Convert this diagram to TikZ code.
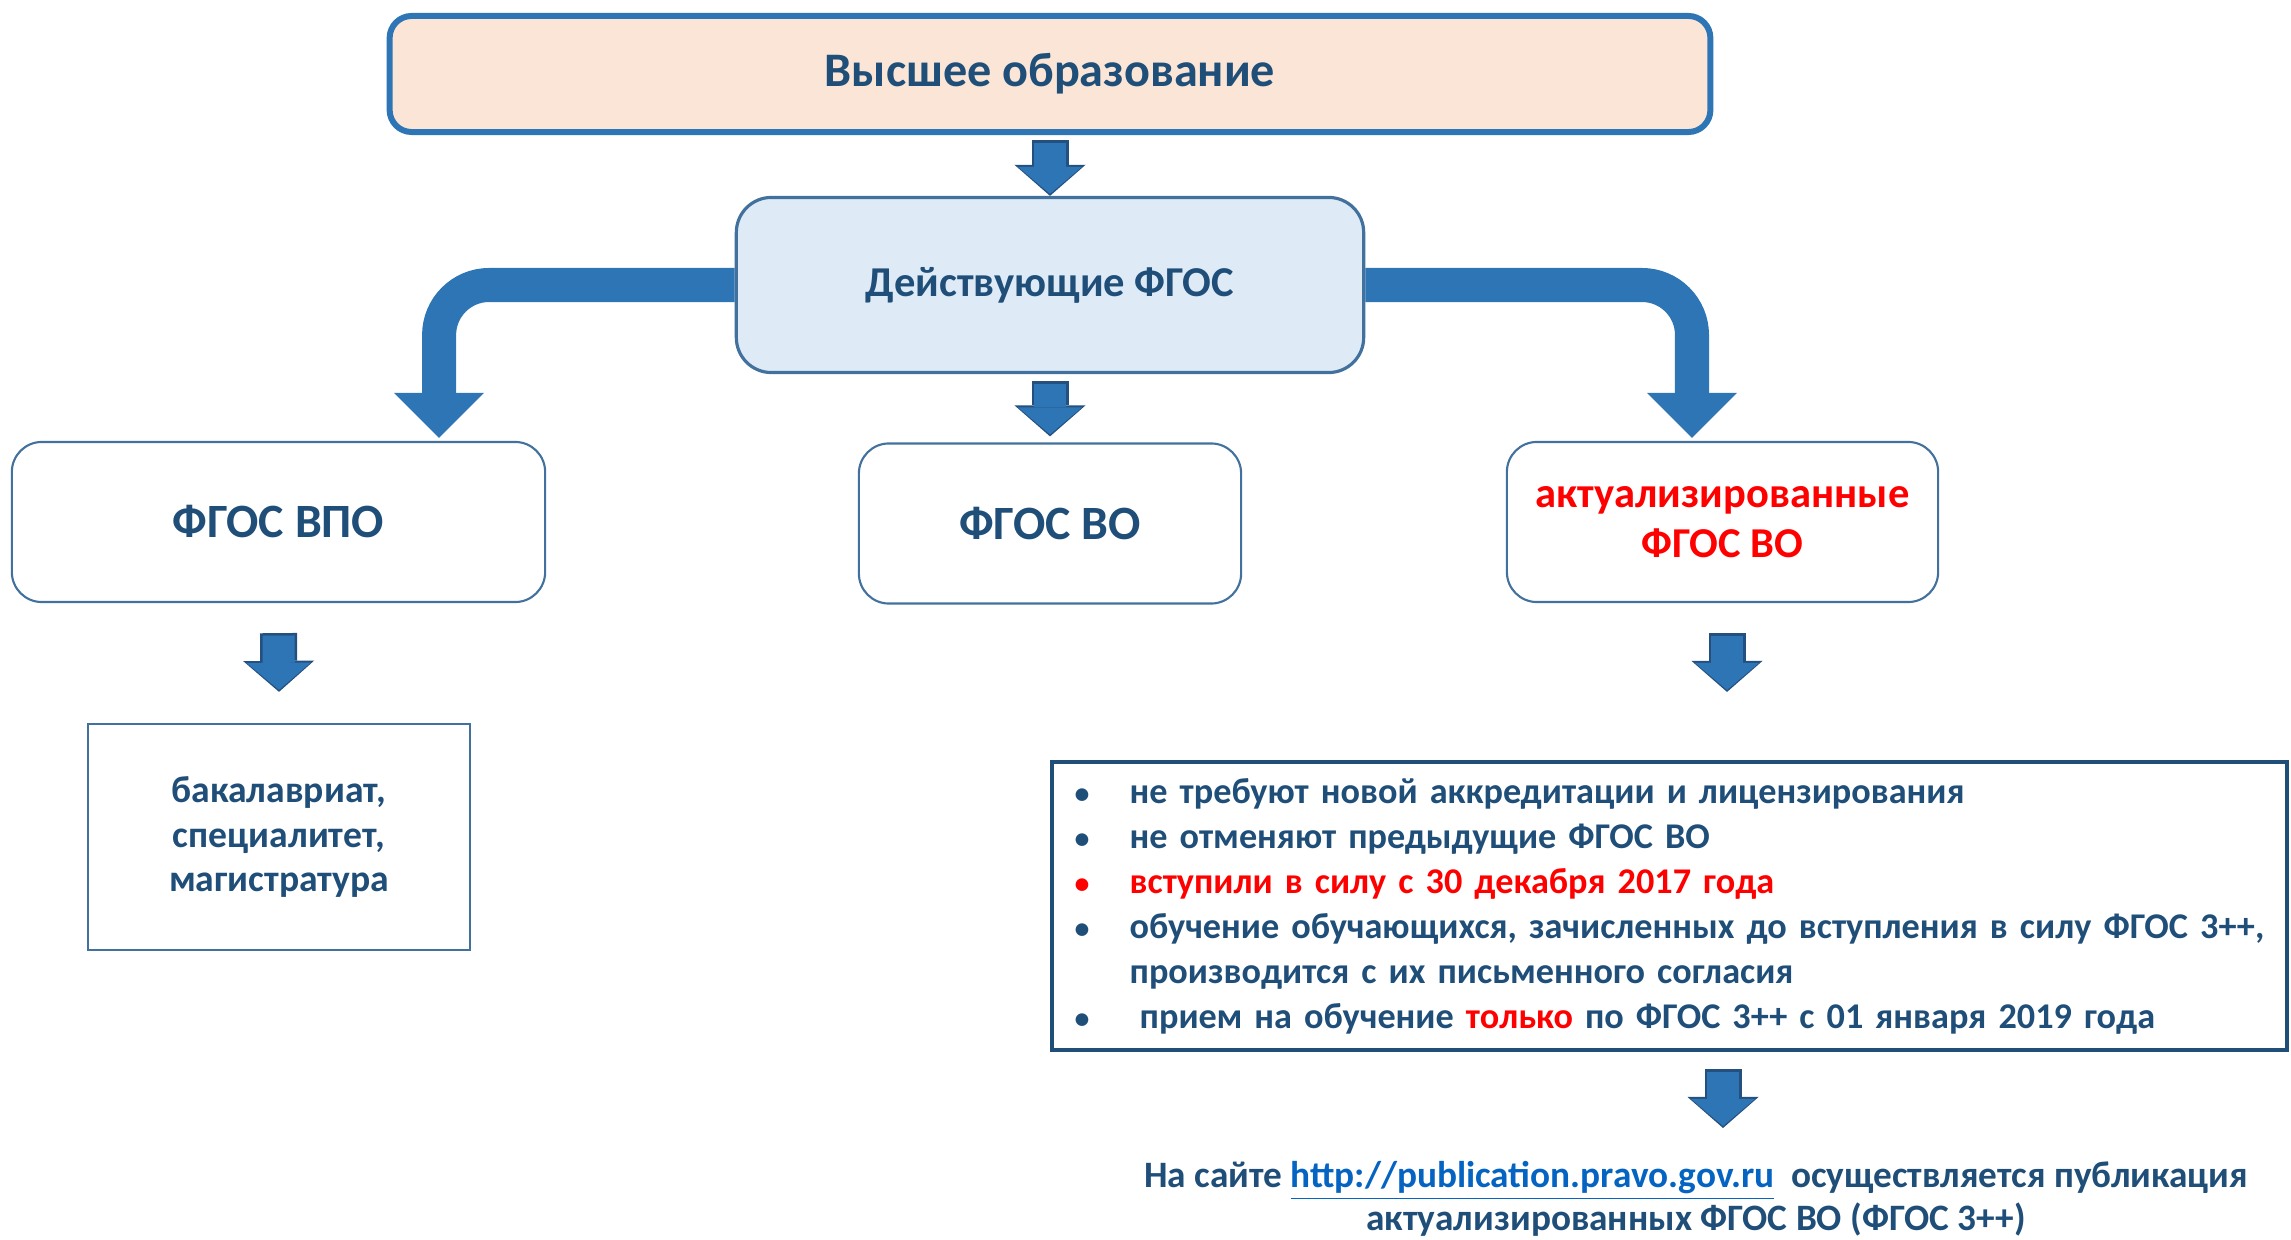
\documentclass[tikz,border=0pt]{standalone}
\usepackage{fontspec}
\setmainfont{Carlito}
\usetikzlibrary{arrows.meta}

\definecolor{txtblue}{HTML}{1F4E79}
\definecolor{arrowblue}{HTML}{2E75B6}
\definecolor{arrowedge}{HTML}{24507F}
\definecolor{edgeblue}{HTML}{41719C}
\definecolor{topfill}{HTML}{FBE5D6}
\definecolor{midfill}{HTML}{DEEBF7}
\definecolor{linkblue}{HTML}{0563C1}

\newcommand\itemdot{\makebox[0.58cm][l]{\hspace{0.03cm}\fontsize{8.5}{8.5}\selectfont\textbullet}}

\tikzset{
  topbox/.style={draw=arrowblue, line width=1.7pt, fill=topfill, rounded corners=0.22cm,
    minimum width=13.2cm, minimum height=1.16cm, text=txtblue,
    font=\fontsize{13.7}{16}\selectfont\bfseries},
  midbox/.style={draw=edgeblue, line width=0.9pt, fill=midfill, rounded corners=0.35cm,
    minimum width=6.27cm, minimum height=1.75cm, text=txtblue,
    font=\fontsize{12.1}{14}\selectfont\bfseries},
  fgosbox/.style={draw=edgeblue, line width=0.6pt, rounded corners=0.3cm,
    minimum height=1.6cm, text=txtblue, align=center,
    font=\fontsize{13.6}{16}\selectfont\bfseries},
  levelbox/.style={draw=edgeblue, line width=0.6pt, minimum width=3.82cm, minimum height=2.26cm,
    text=txtblue, align=center, font=\fontsize{10.7}{12.7}\selectfont\bfseries},
  infobox/.style={draw=txtblue, line width=1.1pt, text width=11.95cm, inner xsep=0.2cm,
    minimum height=2.88cm, text=txtblue, align=left,
    font=\fontsize{10.3}{12.8}\selectfont\bfseries},
  sitetext/.style={text=txtblue, align=center, font=\fontsize{10.6}{12.4}\selectfont\bfseries},
  blockarrow/.style={draw=arrowblue, line width=0.32cm, shorten <=0.25mm, shorten >=0.2mm,
    -{Triangle[width=0.64cm, length=0.27cm, line width=0pt]},
    preaction={draw=arrowedge, line width=0.37cm, shorten <=0pt, shorten >=0pt,
      -{Triangle[width=0.71cm, length=0.31cm, line width=0pt]}}},
  bendarrow/.style={draw=arrowblue, line width=0.34cm, rounded corners=0.5cm,
    -{Triangle[width=0.9cm, length=0.45cm, line width=0pt]}}
}

\begin{document}
\begin{tikzpicture}[x=0.01cm, y=-0.01cm]
    \useasboundingbox (0,0) rectangle (2291,1240);

    % Nodes
    \node (top) [topbox] at (1050,74) {Высшее образование};
    \node (mid) [midbox] at (1050,285) {Действующие ФГОС};
    \node (vpo) [fgosbox, minimum width=5.33cm] at (278.5,522) {ФГОС ВПО};
    \node (vo) [fgosbox, minimum width=3.82cm] at (1050,523.5) {ФГОС ВО};
    \node (akt) [fgosbox, minimum width=4.31cm, text=red,
        font=\fontsize{12.1}{14.2}\selectfont\bfseries] at (1722.5,522) {актуализированные\\ФГОС ВО};
    \node (bak) [levelbox] at (279,837) {бакалавриат,\\специалитет,\\магистратура};
    \node (info) [infobox] at (1669.5,906) {%
        \itemdot не требуют новой аккредитации и лицензирования\\
        \itemdot не отменяют предыдущие ФГОС ВО\\
        \textcolor{red}{\itemdot вступили в силу с 30 декабря 2017 года}\\
        \mbox{\itemdot обучение обучающихся, зачисленных до вступления в силу ФГОС 3++,}\\
        \hspace*{0.58cm}производится с их письменного согласия\\
        \itemdot\hspace{0.1cm}прием на обучение \textcolor{red}{только} по ФГОС 3++ с 01 января 2019 года};
    \node (site) [sitetext] at (1696,1199) {На сайте \textcolor{linkblue}{\underline{http://publication.pravo.gov.ru}}\ \ осуществляется публикация\\
        актуализированных ФГОС ВО (ФГОС 3++)};
    \coordinate (siteTop) at (1723,1128);

    % Arrows
    \draw[blockarrow] ([yshift=-0.5mm]top.south) -- (mid.north);
    \draw[blockarrow] ([yshift=-0.7mm]mid.south) -- ([yshift=0.6mm]vo.north);
    \draw[bendarrow] (mid.west) -| ([xshift=1.605cm, yshift=0.3mm]vpo.north);
    \draw[bendarrow] (mid.east) -| ([xshift=-0.305cm, yshift=0.3mm]akt.north);
    \draw[blockarrow] ([yshift=-3mm]vpo.south) -- ([yshift=3.1mm]bak.north);
    \draw[blockarrow] ([xshift=0.45mm, yshift=-3mm]akt.south) -- ([xshift=0.45mm, yshift=6.8mm]akt.south |- info.north);
    \draw[blockarrow] ([yshift=-1.7mm]siteTop |- info.south) -- (siteTop);
\end{tikzpicture}
\end{document}
